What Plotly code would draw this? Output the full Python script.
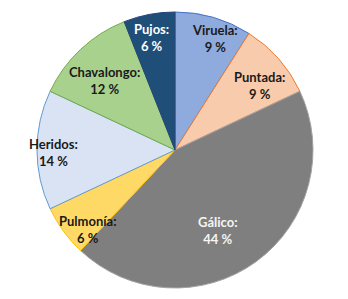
import math
import plotly.graph_objects as go

categories = ["Viruela", "Puntada", "Gálico", "Pulmonía", "Heridos", "Chavalongo", "Pujos"]
values = [9, 9, 44, 6, 14, 12, 6]
fill_colors = ["#8FAADC", "#F8CBAD", "#7F7F7F", "#FFD966", "#DAE3F3", "#A9D18E", "#1F4E79"]
line_colors = ["#4472C4", "#ED7D31", "#A5A5A5", "#FFC000", "#5B9BD5", "#70AD47", "#264478"]
text_colors = ["#1a1a1a", "#1a1a1a", "#f5f5f5", "#1a1a1a", "#1a1a1a", "#1a1a1a", "#ffffff"]
# label placement (layout only): radial fraction and angular nudge in degrees
label_radius = [0.86, 0.77, 0.66, 0.855, 0.884, 0.72, 0.83]
label_nudge = [3.4, 3.7, 7.7, -6.6, -1.4, -2.2, -1.2]

W, H = 348, 299
CX, CY, R = 175, 150, 138

fig = go.Figure(go.Pie(
    labels=categories,
    values=values,
    textinfo="none",
    sort=False,
    direction="clockwise",
    rotation=0,
    marker=dict(colors=fill_colors, line=dict(color=line_colors, width=1)),
    domain=dict(x=[(CX - R) / W, (CX + R) / W], y=[(H - CY - R) / H, (H - CY + R) / H]),
    showlegend=False,
    hoverinfo="label+value",
))

total = sum(values)
cum = 0
annotations = []
for c, v, col, f, dn in zip(categories, values, text_colors, label_radius, label_nudge):
    mid = (cum + v / 2) / total * 2 * math.pi + math.radians(dn)
    cum += v
    px = CX + f * R * math.sin(mid)
    py = CY - f * R * math.cos(mid)
    annotations.append(dict(
        x=px / W, y=1 - py / H, xref="paper", yref="paper",
        text=f"<b>{c}:<br>{v} %</b>", showarrow=False,
        font=dict(family="Lato", size=13, color=col),
        xanchor="center", yanchor="middle", align="center",
    ))

fig.update_layout(
    width=W, height=H,
    margin=dict(l=0, r=0, t=0, b=0),
    paper_bgcolor="white",
    plot_bgcolor="white",
    annotations=annotations,
)

fig.write_html("out.html", config={"displayModeBar": False},
               post_script="document.body.style.margin='0px';")
